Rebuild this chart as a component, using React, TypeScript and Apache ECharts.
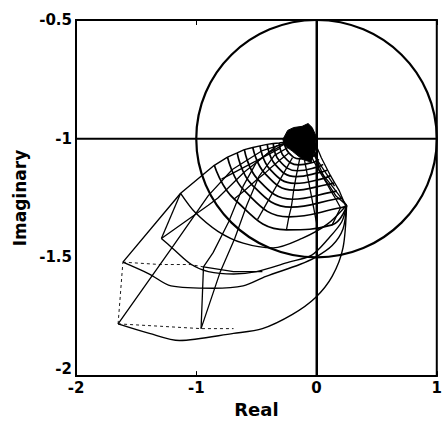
import React, { useEffect, useRef } from "react";
import * as echarts from "echarts";

const xRange = [-2, 1];
const yRange = [-2, -0.5];
const xInterval = 1;
const yInterval = 0.5;

const circleCenter = [0, -1];
const circleRadii = [1, 0.5];
const vLine = [[0, -2], [0, -0.5]];
const hLine = [[-2, -1], [1, -1]];

// outer loops
const locus0 = [[-1.65, -1.78], [-1.39, -1.82], [-1.14, -1.85], [-0.69, -1.82], [-0.45, -1.8], [-0.2, -1.74], [-0.01, -1.67], [0.13, -1.58], [0.22, -1.46], [0.25, -1.28]];
const locus1 = [[-1.61, -1.52], [-1.39, -1.57], [-1.21, -1.62], [-0.86, -1.63], [-0.61, -1.62], [-0.42, -1.58], [-0.14, -1.53], [-0.01, -1.5], [0.13, -1.45], [0.22, -1.38], [0.25, -1.28]];
const locus2 = [[-1.29, -1.42], [-1.2, -1.46], [-1.04, -1.53], [-0.9, -1.56], [-0.69, -1.57], [-0.5, -1.56], [-0.23, -1.52], [-0.04, -1.49], [0.1, -1.42], [0.21, -1.35], [0.25, -1.28]];
const locus3 = [[-1.13, -1.23], [-1.01, -1.31], [-0.82, -1.39], [-0.61, -1.44], [-0.36, -1.46], [-0.12, -1.42], [0.09, -1.36], [0.25, -1.28]];

// inner arcs round the cluster
const arc90 = [[-0.85, -1.112], [-0.685, -1.254], [-0.25, -1.384], [0.13, -1.363], [0.25, -1.283]];
const arc77 = [[-0.74, -1.078], [-0.6, -1.219], [-0.23, -1.329], [0.2, -1.291], [0.25, -1.283]];
const arc67 = [[-0.66, -1.06], [-0.54, -1.192], [-0.21, -1.288], [0.16, -1.254], [0.21, -1.25]];
const arc59 = [[-0.6, -1.046], [-0.49, -1.17], [-0.2, -1.255], [0.125, -1.225], [0.17, -1.221]];
const arc50 = [[-0.53, -1.037], [-0.43, -1.146], [-0.19, -1.217], [0.09, -1.193], [0.145, -1.187]];
const arc43 = [[-0.47, -1.03], [-0.39, -1.127], [-0.18, -1.188], [0.06, -1.167], [0.12, -1.154]];
const arc36 = [[-0.41, -1.024], [-0.345, -1.108], [-0.17, -1.16], [0.03, -1.142], [0.088, -1.133]];
const arc30 = [[-0.36, -1.02], [-0.31, -1.092], [-0.16, -1.135], [0.005, -1.12], [0.055, -1.108]];
const arc24 = [[-0.31, -1.018], [-0.27, -1.076], [-0.15, -1.11], [-0.02, -1.098], [0.02, -1.087]];
const arc18 = [[-0.27, -1.015], [-0.23, -1.06], [-0.14, -1.085], [-0.04, -1.077], [0.0, -1.057]];

const envelopeOuter = [[-1.61, -1.52], [-1.13, -1.23]];
const envelopeEnd = [-0.2, -1.0];
const edgeCD = [[-1.29, -1.42], [-1.13, -1.23]];
const radialA = [[-1.65, -1.78], [-1.19, -1.45], [-0.9, -1.24], [-0.7, -1.13], [-0.45, -1.05], [-0.2, -1.01]];
const radialG1 = [[-0.96, -1.8], [-0.94, -1.54], [-0.86, -1.48], [-0.73, -1.35], [-0.61, -1.2], [-0.5, -1.1], [-0.33, -1.03], [-0.15, -1.0]];
const radialG2 = [[-0.96, -1.8], [-0.8, -1.56], [-0.68, -1.42], [-0.58, -1.28], [-0.48, -1.16], [-0.35, -1.07], [-0.18, -1.02]];
const radialC = [[-1.29, -1.42], [-0.9, -1.28], [-0.82, -1.25], [-0.6, -1.14], [-0.4, -1.06], [-0.22, -1.01]];
const midB = [[-0.94, -1.54], [-0.69, -1.56], [-0.45, -1.56]];
const spoke155 = [[-0.3, -1.04], [-0.79, -1.17]];
const spoke120 = [[-0.2, -1.08], [-0.49, -1.34]];
const spoke80 = [[-0.1, -1.09], [0.01, -1.38]];
const spoke40 = [[-0.02, -1.07], [0.15, -1.2]];

const dashAG = [[-1.65, -1.78], [-1.3, -1.79], [-0.96, -1.8], [-0.69, -1.8]];
const dashAB = [[-1.65, -1.78], [-1.61, -1.52]];
const dashB = [[-1.61, -1.52], [-1.3, -1.53], [-1.05, -1.53], [-0.94, -1.54]];

const ret1 = [[0.25, -1.28], [0.13, -1.2], [0.02, -1.13], [0.0, -1.06], [-0.02, -1.01]];
const ret2 = [[0.25, -1.28], [0.16, -1.24], [0.07, -1.17], [0.01, -1.1], [-0.04, -1.02]];
const ret3 = [[0.24, -1.28], [0.19, -1.22], [0.11, -1.15], [0.04, -1.08], [-0.01, -1.02]];

const blob = [[-0.28, -1.003], [-0.24, -0.965], [-0.19, -0.953], [-0.12, -0.948], [-0.07, -0.936], [-0.036, -0.953], [-0.003, -0.99], [-0.011, -1.045], [-0.044, -1.099], [-0.118, -1.087], [-0.2, -1.053], [-0.266, -1.028]];

const outerLoci = [locus0, locus1, locus2, locus3];
const arcs = [arc90, arc77, arc67, arc59, arc50, arc43, arc36, arc30, arc24, arc18];
const spokeIdx = [1, 2, 3];
const solidExtras = [edgeCD, radialA, radialG1, radialG2, radialC, midB, spoke155, spoke120, spoke80, spoke40, ret1, ret2, ret3];
const dashedExtras = [dashAG, dashAB, dashB];

const FONT = "DejaVu Sans";

function lineSeries(data: number[][], width: number, type: any = "solid", smooth: any = false) {
  return {
    type: "line",
    data,
    showSymbol: false,
    symbol: "none",
    silent: true,
    smooth,
    z: 3,
    lineStyle: { color: "#000", width, type },
  };
}

export default function App() {
  const ref = useRef<HTMLDivElement>(null);
  useEffect(() => {
    if (!ref.current) return;
    const chart = echarts.init(ref.current, null, { renderer: "svg" });
    const series: any[] = [];
    outerLoci.forEach((l) => series.push(lineSeries(l, 1.4, "solid", 0.3)));
    arcs.forEach((l) => series.push(lineSeries(l, 1.7, "solid", 0.45)));
    spokeIdx.forEach((j) => series.push(lineSeries(arcs.map((l) => l[j]), 1.3)));
    series.push(lineSeries([...envelopeOuter, ...arcs.map((l) => l[0]), envelopeEnd], 1.4));
    solidExtras.forEach((l) => series.push(lineSeries(l, 1.3)));
    dashedExtras.forEach((l) => series.push(lineSeries(l, 0.9, [3, 3])));
    series.push({ ...lineSeries(vLine, 2), z: 4 });
    series.push({ ...lineSeries(hLine, 2), z: 4 });
    series.push({
      type: "custom",
      silent: true,
      z: 4,
      data: [circleCenter],
      renderItem: (_p: any, api: any) => {
        const c = api.coord(circleCenter);
        const e = api.coord([circleCenter[0] + circleRadii[0], circleCenter[1] + circleRadii[1]]);
        return {
          type: "ellipse",
          shape: { cx: c[0], cy: c[1], rx: Math.abs(e[0] - c[0]), ry: Math.abs(c[1] - e[1]) },
          style: { fill: "none", stroke: "#000", lineWidth: 2.2 },
        };
      },
    });
    series.push({
      type: "custom",
      silent: true,
      z: 5,
      data: [blob[0]],
      renderItem: (_p: any, api: any) => ({
        type: "polygon",
        shape: { points: blob.map((p) => api.coord(p)) },
        style: { fill: "#000", stroke: "#000", lineWidth: 1 },
      }),
    });

    const labelStyle = { color: "#000", fontFamily: FONT, fontWeight: "bold", fontSize: 15 };
    chart.setOption({
      animation: false,
      backgroundColor: "#fff",
      grid: { left: 76, right: 4, top: 20, bottom: 45, show: true, borderColor: "#000", borderWidth: 2, backgroundColor: "transparent" },
      xAxis: [
        {
          type: "value", min: xRange[0], max: xRange[1], interval: xInterval,
          name: "Real", nameLocation: "middle", nameGap: 21,
          nameTextStyle: { color: "#000", fontFamily: FONT, fontWeight: "bold", fontSize: 18 },
          axisLine: { show: true, lineStyle: { color: "#000", width: 2 } },
          axisTick: { show: true, inside: true, length: 5, lineStyle: { color: "#000", width: 1 } },
          axisLabel: { ...labelStyle, margin: 4 },
          splitLine: { show: false },
        },
        {
          type: "value", position: "top", min: xRange[0], max: xRange[1], interval: xInterval,
          axisLine: { show: true, lineStyle: { color: "#000", width: 2 } },
          axisTick: { show: true, inside: true, length: 5, lineStyle: { color: "#000", width: 1 } },
          axisLabel: { show: false },
          splitLine: { show: false },
        },
      ],
      yAxis: [
        {
          type: "value", min: yRange[0], max: yRange[1], interval: yInterval,
          name: "Imaginary", nameLocation: "middle", nameGap: 47,
          nameTextStyle: { color: "#000", fontFamily: FONT, fontWeight: "bold", fontSize: 17 },
          axisLine: { show: true, lineStyle: { color: "#000", width: 2 } },
          axisTick: { show: true, inside: true, length: 5, lineStyle: { color: "#000", width: 1 } },
          axisLabel: {
            ...labelStyle,
            margin: 4,
            formatter: (v: number) => (v === yRange[0] ? "{lift|" + v + "}" : String(v)),
            rich: { lift: { ...labelStyle, padding: [0, 0, 14, 0] } },
          },
          splitLine: { show: false },
        },
        {
          type: "value", position: "right", min: yRange[0], max: yRange[1], interval: yInterval,
          axisLine: { show: true, lineStyle: { color: "#000", width: 2 } },
          axisTick: { show: true, inside: true, length: 5, lineStyle: { color: "#000", width: 1 } },
          axisLabel: { show: false },
          splitLine: { show: false },
        },
      ],
      series,
    });
    return () => chart.dispose();
  }, []);
  return (
    <div
      ref={ref}
      style={{ position: "fixed", left: 0, top: 0, width: 445, height: 423, background: "#fff" }}
    />
  );
}
